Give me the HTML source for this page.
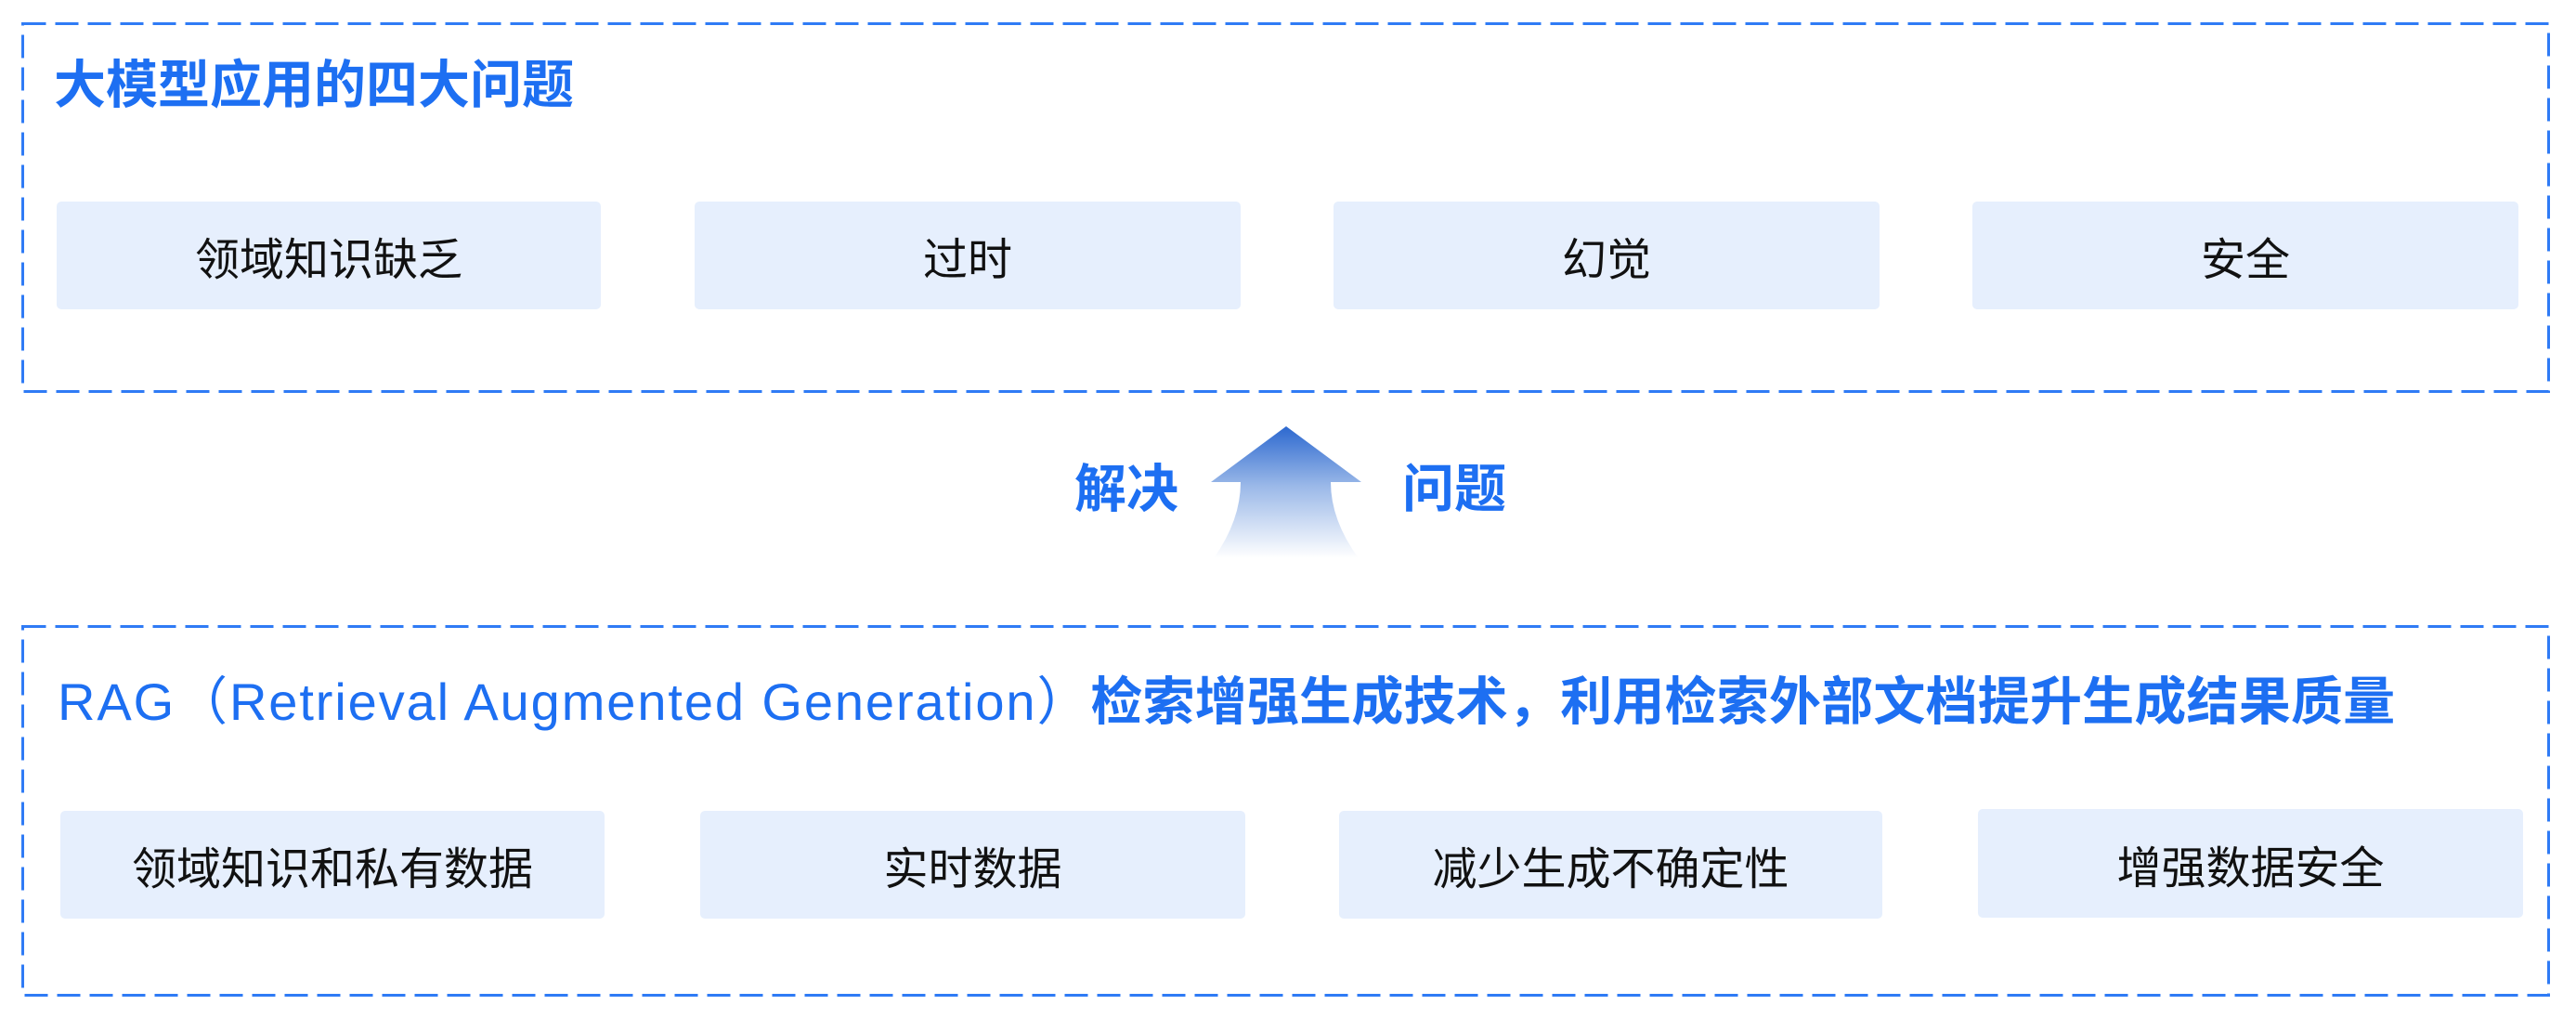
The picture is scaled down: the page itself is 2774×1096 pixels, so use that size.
<!DOCTYPE html>
<html><head><meta charset="utf-8"><style>
html,body{margin:0;padding:0;background:#fff;}
body{width:2774px;height:1096px;position:relative;overflow:hidden;font-family:"Liberation Sans","Noto Sans CJK SC",sans-serif;}
.box{position:absolute;background:#e6effd;border-radius:5px;display:flex;align-items:center;justify-content:center;font-size:48px;color:#111;}
.t{position:absolute;color:#1d6ff2;font-weight:bold;white-space:nowrap;line-height:1;}
</style></head><body>
<svg width="2774" height="1096" style="position:absolute;left:0;top:0">
<defs><linearGradient id="g" x1="0" y1="0" x2="0" y2="1">
<stop offset="0" stop-color="#2c68cf"/><stop offset="0.45" stop-color="#9ab8e8"/><stop offset="1" stop-color="#ffffff"/></linearGradient></defs>
<rect x="24.5" y="25.5" width="2720" height="396" fill="none" stroke="#2f7bf5" stroke-width="3" stroke-dasharray="25 10"/>
<rect x="24.5" y="674.5" width="2720" height="397" fill="none" stroke="#2f7bf5" stroke-width="3" stroke-dasharray="25 10"/>
<path d="M1385 459 L1466 519 L1433 519 Q1433 560 1463 601 L1307 601 Q1336 560 1336 519 L1304 519 Z" fill="url(#g)"/>
</svg>
<div class="t" style="left:58px;top:64px;font-size:56px;">大模型应用的四大问题</div>
<div class="box" style="left:61px;top:217px;width:586px;height:116px;">领域知识缺乏</div>
<div class="box" style="left:748px;top:217px;width:588px;height:116px;">过时</div>
<div class="box" style="left:1436px;top:217px;width:588px;height:116px;">幻觉</div>
<div class="box" style="left:2124px;top:217px;width:588px;height:116px;">安全</div>
<div class="t" style="left:1157px;top:499px;font-size:56px;">解决</div>
<div class="t" style="left:1510px;top:499px;font-size:56px;">问题</div>
<div class="t" style="left:62px;top:728px;font-size:56px;font-weight:normal;"><span style="letter-spacing:1.9px">RAG（Retrieval Augmented Generation）</span><b style="font-size:56px;letter-spacing:0.2px">检索增强生成技术，利用检索外部文档提升生成结果质量</b></div>
<div class="box" style="left:65px;top:873px;width:586px;height:116px;">领域知识和私有数据</div>
<div class="box" style="left:754px;top:873px;width:587px;height:116px;">实时数据</div>
<div class="box" style="left:1442px;top:873px;width:585px;height:116px;">减少生成不确定性</div>
<div class="box" style="left:2130px;top:871px;width:587px;height:117px;">增强数据安全</div>
</body></html>
